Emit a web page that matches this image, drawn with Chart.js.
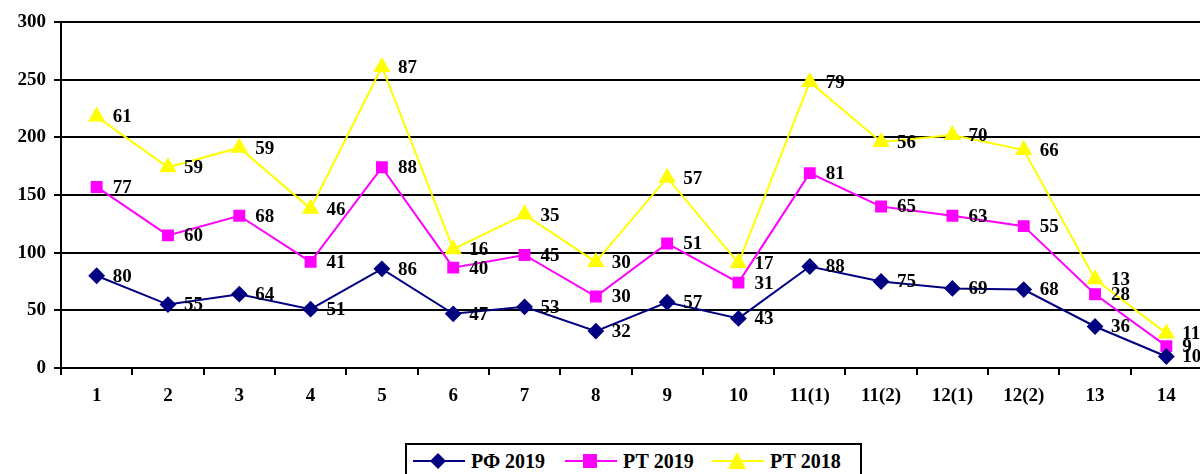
<!DOCTYPE html>
<html>
<head>
<meta charset="utf-8">
<script src="https://cdn.jsdelivr.net/npm/chart.js@4/dist/chart.umd.min.js"></script>
<style>
  body { margin: 0; background: #fff; overflow: hidden; width: 1200px; height: 474px; position: relative; }
  #wrap { position: absolute; left: 0; top: 0; width: 1212px; height: 420px; }
  #legend { position: absolute; left: 405px; top: 443px; width: 453px; height: 40px; border: 2px solid #000;
    font-family: "Liberation Serif", serif; font-weight: bold; font-size: 20px; }
  .item { position: absolute; top: 4px; height: 24px; line-height: 24px; }
  .item svg { position: absolute; top: 0; }
  .item span { position: absolute; white-space: nowrap; }
</style>
</head>
<body>
<div id="wrap"><canvas id="chart"></canvas></div>
<div id="legend"></div>
<script>
const categories = ["1", "2", "3", "4", "5", "6", "7", "8", "9", "10", "11(1)", "11(2)", "12(1)", "12(2)", "13", "14"];
const rf2019 = [80, 55, 64, 51, 86, 47, 53, 32, 57, 43, 88, 75, 69, 68, 36, 10];
const rt2019 = [77, 60, 68, 41, 88, 40, 45, 30, 51, 31, 81, 65, 63, 55, 28, 9];
const rt2018 = [61, 59, 59, 46, 87, 16, 35, 30, 57, 17, 79, 56, 70, 66, 13, 11];
const yTicks = [0, 50, 100, 150, 200, 250, 300];

const seriesNames = ["РФ 2019", "РТ 2019", "РТ 2018"];
const colors = ["#000080", "#FF00FF", "#FFFF00"];
const shapes = ["rectRot", "rect", "triangle"];
const radii = [7, 7, 8];

const font = { family: "Liberation Serif", weight: "bold", size: 19 };

// value labels next to every point
const valueLabels = {
  id: "valueLabels",
  afterDatasetsDraw(chart) {
    const ctx = chart.ctx;
    ctx.save();
    ctx.font = "bold 19px 'Liberation Serif'";
    ctx.fillStyle = "#000";
    ctx.textAlign = "left";
    ctx.textBaseline = "middle";
    chart.data.datasets.forEach((ds, i) => {
      chart.getDatasetMeta(i).data.forEach((pt, j) => {
        ctx.fillText(String(ds.data[j]), pt.x + 16, pt.y + 1);
      });
    });
    ctx.restore();
  }
};

const allSeries = [rf2019, rt2019, rt2018];

new Chart(document.getElementById("chart"), {
  type: "line",
  data: {
    labels: categories,
    datasets: allSeries.map((d, i) => ({
      label: seriesNames[i],
      data: d,
      borderColor: colors[i],
      backgroundColor: colors[i],
      borderWidth: 2,
      pointStyle: shapes[i],
      pointRadius: radii[i],
      pointBorderColor: colors[i],
      pointBackgroundColor: colors[i],
      fill: false,
      tension: 0
    }))
  },
  options: {
    responsive: true,
    maintainAspectRatio: false,
    animation: false,
    layout: { padding: { top: 22, right: 3, left: 0, bottom: 0 } },
    plugins: { legend: { display: false }, tooltip: { enabled: false } },
    scales: {
      x: {
        offset: true,
        grid: { offset: true, drawOnChartArea: false, drawTicks: true, tickLength: 7, color: "#000", lineWidth: 2 },
        border: { color: "#000", width: 2 },
        ticks: { color: "#000", font: font, padding: 10, maxRotation: 0, autoSkip: false },
        afterFit(scale) { scale.height = 52; }
      },
      y: {
        stacked: true,
        min: 0,
        max: 300,
        afterBuildTicks(scale) { scale.ticks = yTicks.map(v => ({ value: v })); },
        grid: { color: "#000", lineWidth: 2, tickLength: 7 },
        border: { color: "#000", width: 2 },
        ticks: { color: "#000", font: font, padding: 8 },
        afterFit(scale) { scale.width = 61; }
      }
    }
  },
  plugins: [valueLabels]
});

// html legend
const legend = document.getElementById("legend");
const lx = [6, 158, 305];
seriesNames.forEach((name, i) => {
  const el = document.createElement("div");
  el.className = "item";
  el.style.left = lx[i] + "px";
  let marker;
  if (i === 0) marker = '<polygon points="25,4 33,12 25,20 17,12" fill="' + colors[i] + '"/>';
  else if (i === 1) marker = '<rect x="18" y="5" width="14" height="14" fill="' + colors[i] + '"/>';
  else marker = '<polygon points="25,3 34,20 16,20" fill="' + colors[i] + '"/>';
  el.innerHTML = '<svg width="52" height="24"><line x1="0" y1="12" x2="52" y2="12" stroke="' + colors[i] +
    '" stroke-width="2"/>' + marker + '</svg><span style="left:58px">' + name + '</span>';
  legend.appendChild(el);
});
</script>
</body>
</html>
